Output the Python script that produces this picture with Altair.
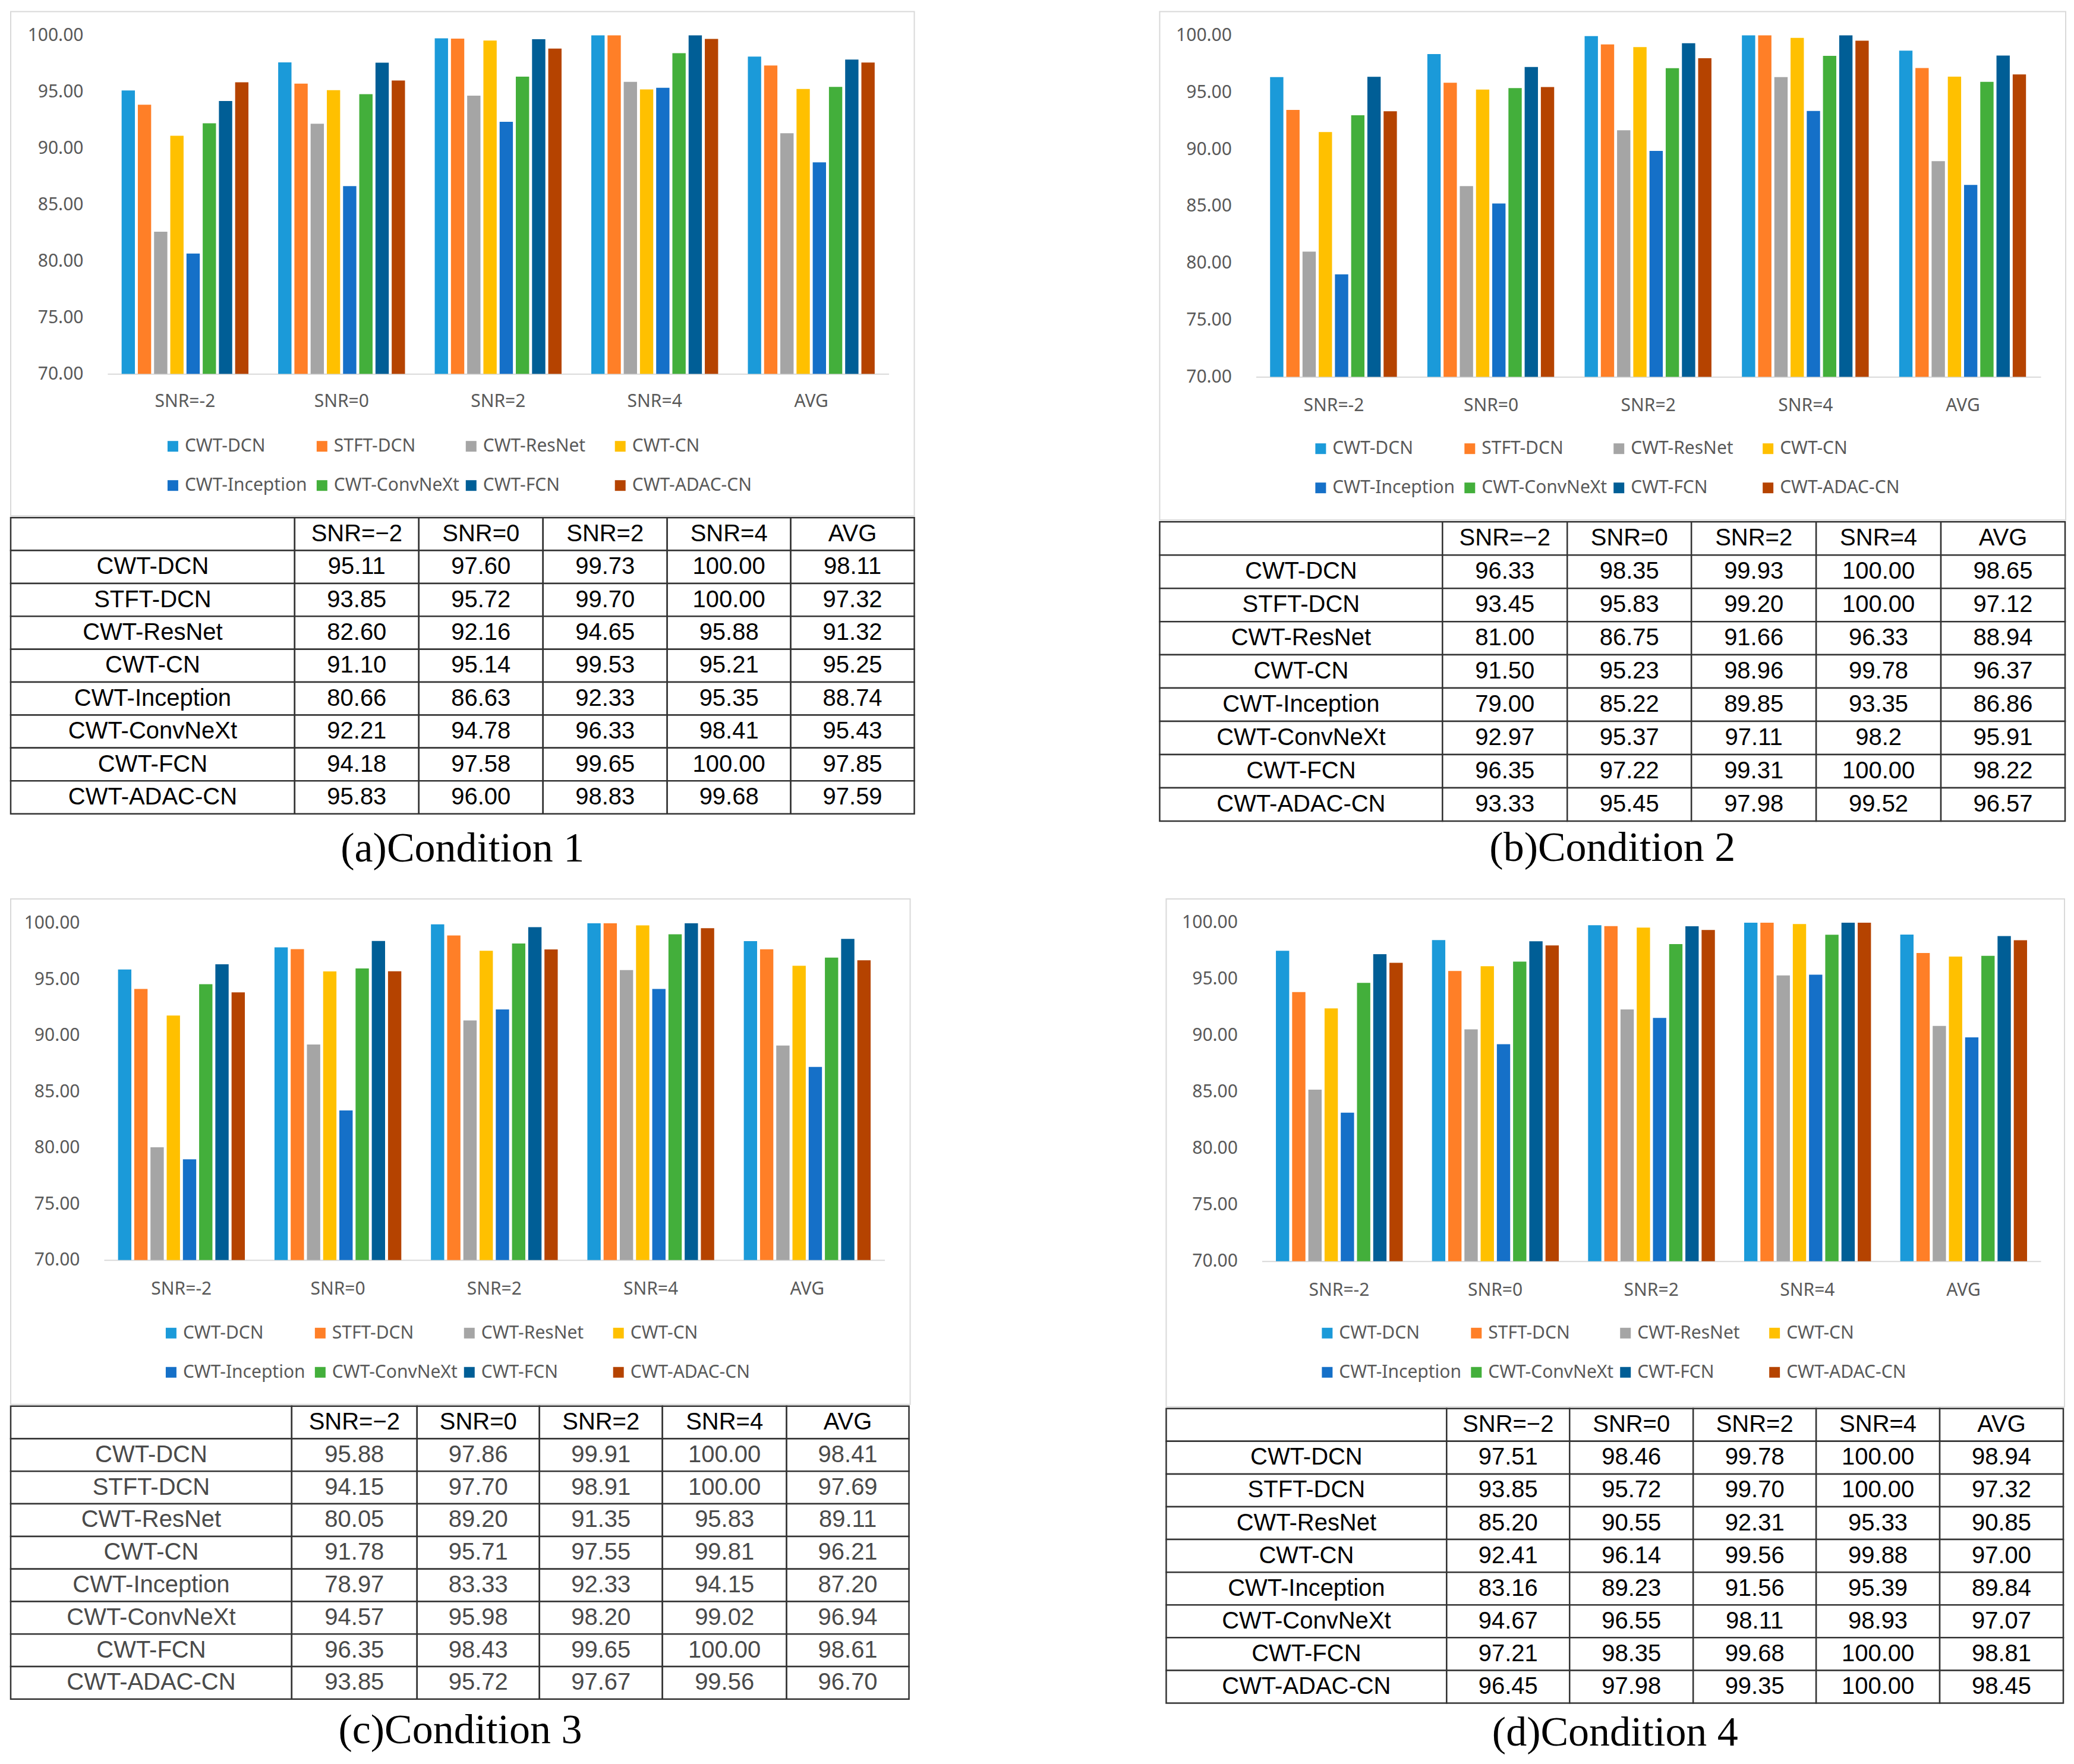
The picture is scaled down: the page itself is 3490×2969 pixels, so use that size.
import altair as alt
import pandas as pd

MODELS = ["CWT-DCN", "STFT-DCN", "CWT-ResNet", "CWT-CN",
          "CWT-Inception", "CWT-ConvNeXt", "CWT-FCN", "CWT-ADAC-CN"]
COLORS = ["#1B9AD9", "#FF7F27", "#A5A5A5", "#FFC000",
          "#1570C8", "#43AF3B", "#005E96", "#B54300"]
SNR_CHART = ["SNR=-2", "SNR=0", "SNR=2", "SNR=4", "AVG"]
SNR_TABLE = ["SNR=−2", "SNR=0", "SNR=2", "SNR=4", "AVG"]
YTICKS = [70, 75, 80, 85, 90, 95, 100]

# values per model (rows) for SNR=-2, 0, 2, 4, AVG, as printed in the tables
COND1 = [
    ["95.11", "97.60", "99.73", "100.00", "98.11"],
    ["93.85", "95.72", "99.70", "100.00", "97.32"],
    ["82.60", "92.16", "94.65", "95.88", "91.32"],
    ["91.10", "95.14", "99.53", "95.21", "95.25"],
    ["80.66", "86.63", "92.33", "95.35", "88.74"],
    ["92.21", "94.78", "96.33", "98.41", "95.43"],
    ["94.18", "97.58", "99.65", "100.00", "97.85"],
    ["95.83", "96.00", "98.83", "99.68", "97.59"],
]
COND2 = [
    ["96.33", "98.35", "99.93", "100.00", "98.65"],
    ["93.45", "95.83", "99.20", "100.00", "97.12"],
    ["81.00", "86.75", "91.66", "96.33", "88.94"],
    ["91.50", "95.23", "98.96", "99.78", "96.37"],
    ["79.00", "85.22", "89.85", "93.35", "86.86"],
    ["92.97", "95.37", "97.11", "98.2", "95.91"],
    ["96.35", "97.22", "99.31", "100.00", "98.22"],
    ["93.33", "95.45", "97.98", "99.52", "96.57"],
]
COND3 = [
    ["95.88", "97.86", "99.91", "100.00", "98.41"],
    ["94.15", "97.70", "98.91", "100.00", "97.69"],
    ["80.05", "89.20", "91.35", "95.83", "89.11"],
    ["91.78", "95.71", "97.55", "99.81", "96.21"],
    ["78.97", "83.33", "92.33", "94.15", "87.20"],
    ["94.57", "95.98", "98.20", "99.02", "96.94"],
    ["96.35", "98.43", "99.65", "100.00", "98.61"],
    ["93.85", "95.72", "97.67", "99.56", "96.70"],
]
COND4 = [
    ["97.51", "98.46", "99.78", "100.00", "98.94"],
    ["93.85", "95.72", "99.70", "100.00", "97.32"],
    ["85.20", "90.55", "92.31", "95.33", "90.85"],
    ["92.41", "96.14", "99.56", "99.88", "97.00"],
    ["83.16", "89.23", "91.56", "95.39", "89.84"],
    ["94.67", "96.55", "98.11", "98.93", "97.07"],
    ["97.21", "98.35", "99.68", "100.00", "98.81"],
    ["96.45", "97.98", "99.35", "100.00", "98.45"],
]
CAPTIONS = ["(a)Condition 1", "(b)Condition 2", "(c)Condition 3", "(d)Condition 4"]

# layout of each panel (pixels, relative to its chart box)
GEO = [
    dict(W=1521, H=849, x0=163, x1=1478, y100=40, y70=610, legX=258, legY=717,
         rowh=55.4, edges=[0, 478, 687, 896, 1105, 1313, 1521], xpad=31, capoff=24),
    dict(W=1525, H=856, x0=162, x1=1483, y100=40, y70=615, legX=256, legY=721,
         rowh=56.0, edges=[0, 476, 686, 895, 1105, 1315, 1524], xpad=33, capoff=10),
    dict(W=1514, H=851, x0=157, x1=1471, y100=41, y70=608, legX=255, legY=716,
         rowh=54.8, edges=[0, 473, 684, 890, 1097, 1306, 1512], xpad=34, capoff=17),
    dict(W=1512, H=855, x0=161, x1=1472, y100=40, y70=610, legX=256, legY=716,
         rowh=55.1, edges=[0, 472, 679, 887, 1094, 1302, 1510], xpad=34, capoff=15),
]

CHART_FONT = "Noto Sans"
AXIS_COLOR = "#595959"


def bar_chart(values, g):
    recs = []
    for mi, m in enumerate(MODELS):
        for si, s in enumerate(SNR_CHART):
            recs.append({"snr": s, "model": m, "value": float(values[mi][si])})
    df = pd.DataFrame(recs)
    return alt.Chart(df).mark_bar().encode(
        x=alt.X("snr:N", sort=SNR_CHART,
                scale=alt.Scale(range=[g["x0"], g["x1"]], paddingInner=0.19, paddingOuter=0.09),
                axis=alt.Axis(title=None, labelAngle=0, offset=-(g["H"] - g["y70"]),
                              domainColor="#D9D9D9", domainWidth=2, ticks=False, tickSize=0,
                              grid=False, labelPadding=g["xpad"], labelFont=CHART_FONT,
                              labelFontSize=30, labelColor=AXIS_COLOR)),
        xOffset=alt.XOffset("model:N", sort=MODELS,
                            scale=alt.Scale(paddingInner=0.18, paddingOuter=0)),
        y=alt.Y("value:Q",
                scale=alt.Scale(domain=[70, 100], range=[g["y70"], g["y100"]], zero=False, nice=False),
                axis=alt.Axis(title=None, values=YTICKS, format=".2f", grid=False, domain=False,
                              ticks=False, tickSize=0, labelPadding=41, offset=-g["x0"],
                              labelFont=CHART_FONT, labelFontSize=30, labelColor=AXIS_COLOR)),
        y2=alt.datum(70),
        color=alt.Color("model:N", sort=MODELS,
                        scale=alt.Scale(domain=MODELS, range=COLORS),
                        legend=alt.Legend(title=None, orient="none", legendX=g["legX"],
                                          legendY=g["legY"], columns=4, direction="horizontal",
                                          gridAlign="all", symbolType="square", symbolSize=324,
                                          symbolStrokeWidth=0, labelFont=CHART_FONT,
                                          labelFontSize=30, labelColor=AXIS_COLOR, labelLimit=500,
                                          labelOffset=5, columnPadding=4, rowPadding=36,
                                          padding=0)),
    ).properties(width=g["W"], height=g["H"],
                 view=alt.ViewBackground(stroke="#D9D9D9", strokeWidth=2))


def table_chart(values, g, text_color):
    edges = g["edges"]
    recs = []
    for r in range(9):
        for c in range(6):
            if r == 0:
                txt = "" if c == 0 else SNR_TABLE[c - 1]
            else:
                txt = MODELS[r - 1] if c == 0 else values[r - 1][c - 1]
            recs.append({"x0": edges[c], "x1": edges[c + 1], "y0": r, "y1": r + 1,
                         "xc": (edges[c] + edges[c + 1]) / 2, "yc": r + 0.5,
                         "text": txt})
    df = pd.DataFrame(recs)
    xs = alt.Scale(domain=[0, g["W"]], nice=False, zero=False)
    ys = alt.Scale(domain=[0, 9], nice=False, zero=False, reverse=True)
    base = alt.Chart(df)
    cells = base.mark_rect(fill="white", stroke="#333333", strokeWidth=2.5).encode(
        x=alt.X("x0:Q", scale=xs, axis=None), x2="x1",
        y=alt.Y("y0:Q", scale=ys, axis=None), y2="y1")
    enc = dict(x=alt.X("xc:Q", scale=xs, axis=None),
               y=alt.Y("yc:Q", scale=ys, axis=None),
               text="text:N")
    head = base.transform_filter("datum.y0 == 0").mark_text(
        font="Liberation Sans", fontSize=40, baseline="middle", color="#000000").encode(**enc)
    body = base.transform_filter("datum.y0 > 0").mark_text(
        font="Liberation Sans", fontSize=40, baseline="middle", color=text_color).encode(**enc)
    return alt.layer(cells, head, body).properties(width=g["W"], height=9 * g["rowh"])


def panel(values, caption, g, text_color="#000000"):
    return alt.vconcat(
        bar_chart(values, g), table_chart(values, g, text_color), spacing=0,
        title=alt.TitleParams(caption, orient="bottom", anchor="middle", font="Liberation Serif",
                              fontSize=70, fontWeight="normal", color="#000000",
                              offset=g["capoff"])
    ).resolve_scale(color="independent").resolve_legend(color="independent")


pa = panel(COND1, CAPTIONS[0], GEO[0])
pb = panel(COND2, CAPTIONS[1], GEO[1])
pc = panel(COND3, CAPTIONS[2], GEO[2], text_color="#4a4a4a")
pd_ = panel(COND4, CAPTIONS[3], GEO[3])

row1 = alt.hconcat(pa, pb, spacing=409).resolve_scale(color="independent").resolve_legend(color="independent")
row2 = alt.hconcat(pc, pd_, spacing=428).resolve_scale(color="independent").resolve_legend(color="independent")

chart = alt.vconcat(row1, row2, spacing=47).resolve_scale(
    color="independent").resolve_legend(color="independent").properties(
    padding={"left": 8, "top": 10, "right": 5, "bottom": 5},
    background="white",
).configure_view(stroke="transparent")

chart.save("out.html", embed_options={"renderer": "svg", "actions": False})
